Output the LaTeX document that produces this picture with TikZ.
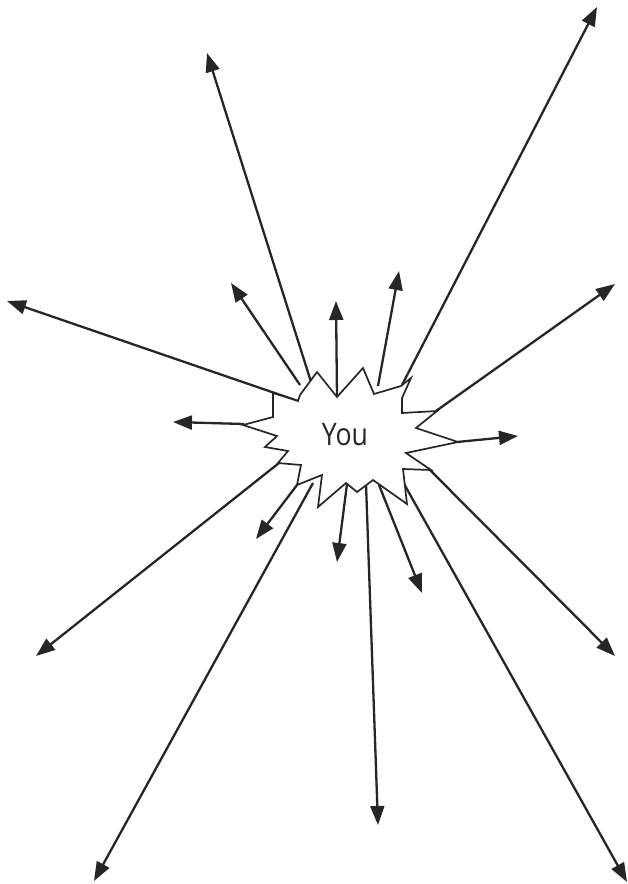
\documentclass[tikz,border=0pt]{standalone}
\usepackage{fontspec}
\newfontfamily\youfont[FakeStretch=0.86]{Open Sans}
\usetikzlibrary{arrows.meta}
\definecolor{ink}{HTML}{262626}
\tikzset{
  ray/.style={draw=ink, line width=2.3pt, -{Triangle[length=19pt,width=14pt]}},
  burst/.style={draw=ink, line width=1.7pt, fill=white, line join=miter},
  youlabel/.style={text=ink, font=\youfont\fontsize{31}{31}\selectfont, inner sep=0pt}
}
\begin{document}
\begin{tikzpicture}[x=1pt,y=-1pt]
\useasboundingbox (0,0) rectangle (628,884);
% starts
\coordinate (sA) at (312,385);
\coordinate (sB) at (402,385);
\coordinate (sC) at (298,401);
\coordinate (sD) at (300,385);
\coordinate (sE) at (337,397);
\coordinate (sF) at (378,386);
\coordinate (sG) at (436,411);
\coordinate (sH) at (244,424);
\coordinate (sI) at (457,442);
\coordinate (sJ) at (279,463);
\coordinate (sK) at (313,483);
\coordinate (sL) at (297,485);
\coordinate (sM) at (347,484);
\coordinate (sN) at (366,484);
\coordinate (sO) at (379,485);
\coordinate (sP) at (428,468);
\coordinate (sQ) at (403,482);
% tips
\coordinate (tA) at (207,53);
\coordinate (tB) at (597,7);
\coordinate (tC) at (7,301);
\coordinate (tD) at (231,283);
\coordinate (tE) at (336,301);
\coordinate (tF) at (399,271);
\coordinate (tG) at (615,284);
\coordinate (tH) at (173,422);
\coordinate (tI) at (518,436);
\coordinate (tJ) at (36,656);
\coordinate (tK) at (94,881);
\coordinate (tL) at (256,539);
\coordinate (tM) at (337,562);
\coordinate (tN) at (378,825);
\coordinate (tO) at (422,593);
\coordinate (tP) at (615,656);
\coordinate (tQ) at (627,882);

\foreach \r in {A,B,C,D,E,F,G,H,I,J,K,L,M,N,O,P,Q}
  \draw[ray] (s\r) -- (t\r);

\draw[burst] (300,395) -- (317,372) -- (337,397) -- (363,368) -- (374,394)
  -- (401,386) -- (411,378) -- (402,398) -- (402,413) -- (437,411)
  -- (416,428) -- (458,442) -- (406,453) -- (431,470) -- (403,469)
  -- (407,504) -- (373,480) -- (357,492) -- (346,483) -- (318,507)
  -- (322,475) -- (297,485) -- (301,465) -- (278,463) -- (288,451)
  -- (265,447) -- (277,436) -- (243,425) -- (273,417) -- (273,393)
  -- (298,401) -- cycle;

\node[youlabel] (you) at (345,435) {You};
\end{tikzpicture}
\end{document}
